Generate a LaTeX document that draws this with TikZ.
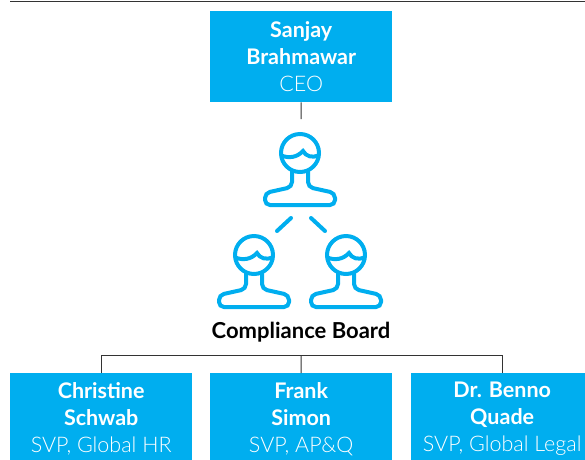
\documentclass[tikz,border=0pt]{standalone}
\usepackage{fontspec}
\setmainfont{Lato}
\newfontfamily\lightfont{Lato Light}
\usepackage{tikz}

\definecolor{boxblue}{HTML}{00AEEF}
\definecolor{linegray}{HTML}{333333}

\tikzset{
	box/.style={rectangle, fill=boxblue, text=white, anchor=north west, inner sep=0pt,
		minimum width=182pt, minimum height=91pt, align=center, font=\fontsize{21.5}{27}\selectfont},
	link/.style={draw=linegray, line width=1pt},
	icon/.style={draw=boxblue, line width=4pt}
}

\begin{document}
\begin{tikzpicture}[x=1pt, y=-1pt]
		\useasboundingbox (0, 0) rectangle (585, 459);
		\draw[link] (10, 1.5) -- (585, 1.5);
		\node[box] (ceo) at (210, 11) {\textbf{Sanjay}\\\textbf{Brahmawar}\\{\lightfont CEO}};
		\coordinate (boardtop) at (301, 119);
		\draw[link] (ceo.south) -- (boardtop);
		% the three people of the board
		\foreach \hx/\hy in {300/153, 254/255, 346/255} {
			\begin{scope}[shift={(\hx, \hy)}]
				\draw[icon] (0, 0) circle (19pt);
				\draw[icon] (-18.8, 2.5) .. controls (-11, 5.5) and (-3, 4.5) .. (3, -2) .. controls (6, 3.5) and (12, 5) .. (18.8, 2.5);
				\draw[icon, rounded corners=5pt] (-8, 17) -- (-8, 34) -- (-35, 40) -- (-35, 52) -- (35, 52) -- (35, 40) -- (8, 34) -- (8, 17);
			\end{scope}
		}
		\draw[icon, line cap=round] (277, 231) -- (291, 218);
		\draw[icon, line cap=round] (311, 218) -- (325, 231);
		\node[anchor=base, font=\bfseries\fontsize{22}{22}\selectfont] (board) at (301, 338) {Compliance Board};
		\node[box] (christine) at (10, 373) {\textbf{Christine}\\\textbf{Schwab}\\{\lightfont SVP, Global HR}};
		\node[box] (frank) at (210, 373) {\textbf{Frank}\\\textbf{Simon}\\{\lightfont SVP, AP\&Q}};
		\node[box] (benno) at (411, 373) {\textbf{Dr. Benno}\\\textbf{Quade}\\{\lightfont SVP, Global Legal}};
		\coordinate (fork) at (301, 355);
		\draw[link] (christine.north) |- (fork) -| (benno.north);
		\draw[link] (fork) -- (frank.north);
	\end{tikzpicture}
\end{document}
